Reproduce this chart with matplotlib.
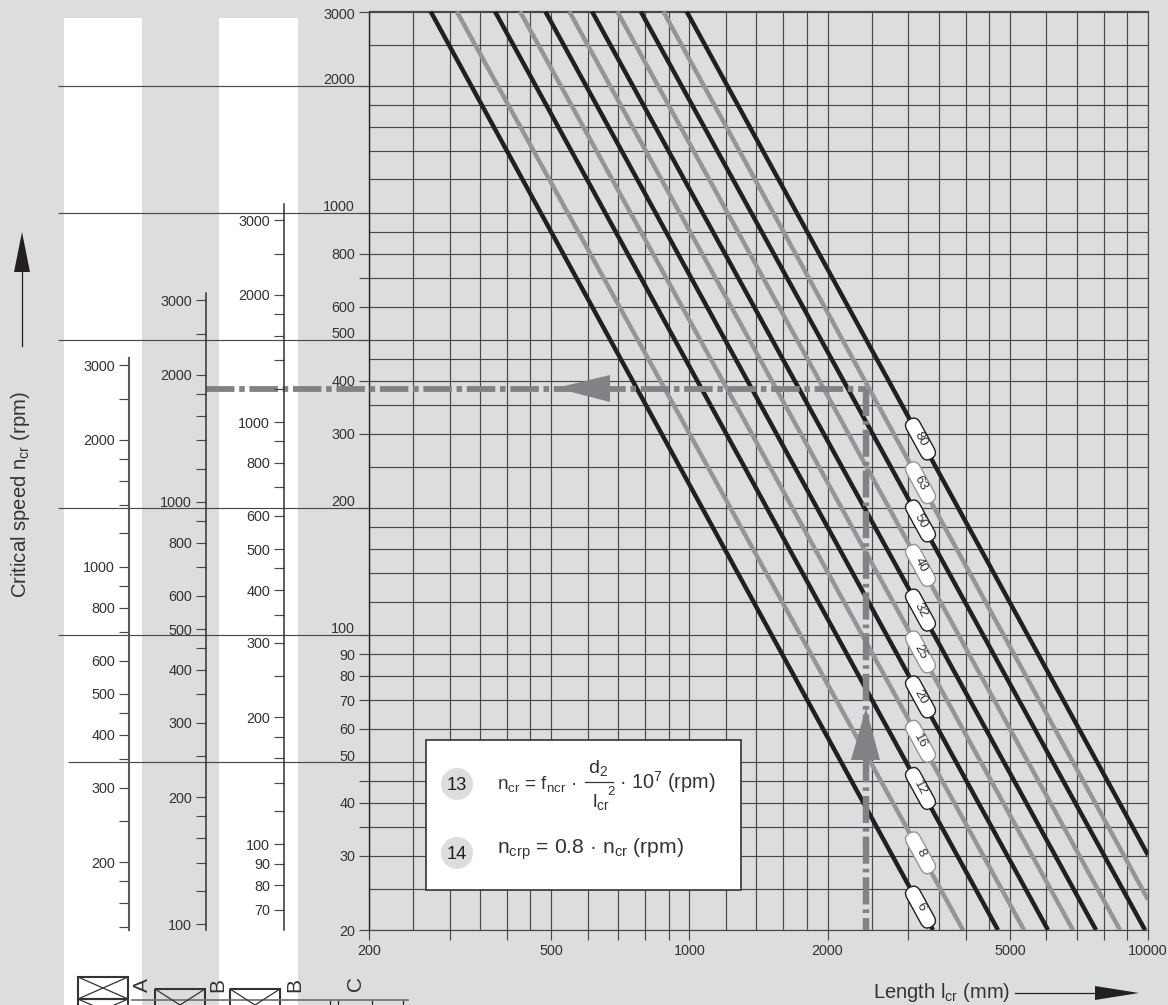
import numpy as np
import matplotlib
matplotlib.use("Agg")
import matplotlib.pyplot as plt
from matplotlib.patches import Rectangle, Polygon, Circle, FancyBboxPatch
from matplotlib.transforms import Affine2D, IdentityTransform

W, H = 1168, 1005
BG = "#dcddde"
INK = "#333335"
BLACK = "#231f20"
GREY = "#939598"
GUIDE = "#808285"
GRID = "#48484a"

plt.rcParams["font.family"] = ["Liberation Sans", "DejaVu Sans"]
plt.rcParams["mathtext.default"] = "regular"
plt.rcParams["lines.scale_dashes"] = False

# ---------- data ----------
x_major = [200, 300, 400, 500, 600, 700, 800, 900, 1000, 2000, 3000, 4000, 5000, 6000, 7000, 8000, 9000, 10000]
x_minor = [250, 350, 450, 1200, 1400, 1600, 1800, 2500, 3500, 4500]
x_labels = ["200", "", "", "500", "", "", "", "", "1000", "2000", "", "", "5000", "", "", "", "", "10000"]
y_major = [3000, 2000, 1000, 800, 700, 600, 500, 400, 300, 200, 100, 90, 80, 70, 60, 50, 45, 40, 35, 30, 20]
y_minor = [2500, 1800, 1600, 1400, 1200, 900, 450, 350, 250, 180, 160, 140, 120, 25]
y_labels = ["3000", "2000", "1000", "800", "", "600", "500", "400", "300", "200", "100", "90", "80", "70", "60", "50", "", "40", "", "30", "20"]
y_raised = ["2000", "1000", "500", "200", "100", "50"]

# diameter label, start (length, speed), end (length, speed)
diameters = ["6", "8", "12", "16", "20", "25", "32", "40", "50", "63", "80"]
line_colors = [BLACK, GREY] * 5 + [BLACK]
len_top = [272.6, 310.8, 376.6, 427, 485, 547, 613, 696, 783, 877, 986]
len_end = [3397, 3950, 4708, 5366, 6052, 6860, 7703, 8690, 9853, 10000, 10000]
spd_end = [20, 20, 20, 20, 20, 20, 20, 20, 20, 23.6, 30.1]
pill_len = 3190

guide_len = 2430
guide_spd = 383
guide_left = 88

scale_a_ticks = [3000, 2500, 2000, 1800, 1600, 1400, 1200, 1000, 900, 800, 700, 600, 500, 450, 400, 350, 300, 250, 200, 180, 160, 140]
scale_a_labels = ["3000", "", "2000", "", "", "", "", "1000", "", "800", "", "600", "500", "", "400", "", "300", "", "200", "", "", ""]
scale_b_ticks = [3000, 2500, 2000, 1800, 1600, 1400, 1200, 1000, 900, 800, 700, 600, 500, 450, 400, 350, 300, 250, 200, 180, 160, 140, 120, 100]
scale_b_labels = ["3000", "", "2000", "", "", "", "", "1000", "", "800", "", "600", "500", "", "400", "", "300", "", "200", "", "", "", "", "100"]
scale_c_ticks = [3000, 2500, 2000, 1800, 1600, 1400, 1200, 1000, 900, 800, 700, 600, 500, 450, 400, 350, 300, 250, 200, 180, 160, 140, 120, 100, 90, 80, 70]
scale_c_labels = ["3000", "", "2000", "", "", "", "", "1000", "", "800", "", "600", "500", "", "400", "", "300", "", "200", "", "", "", "", "100", "90", "80", "70"]

TICK_FS = 10.4

fig = plt.figure(figsize=(W / 100, H / 100), dpi=100, facecolor=BG)


def px_axes(x0, y0, x1, y1, **kw):
    return fig.add_axes([x0 / W, (H - y1) / H, (x1 - x0) / W, (y1 - y0) / H], **kw)


def overlay(z):
    a = px_axes(0, 0, W, H, zorder=z)
    a.set_xlim(0, W)
    a.set_ylim(H, 0)
    a.axis("off")
    a.patch.set_alpha(0)
    return a


# ---------- background ----------
bg = overlay(0)
bg.add_patch(Rectangle((64, 18), 78, H, fc="white", ec="none"))
bg.add_patch(Rectangle((219, 18), 79, H, fc="white", ec="none"))
for yy, x0 in [(86, 58), (213, 58), (340, 58), (508, 58), (635, 58), (762, 68)]:
    bg.plot([x0, 369], [yy, yy], color="#4a4a4c", lw=0.85, solid_capstyle="butt")

# ---------- main chart ----------
ax = px_axes(369, 11.5, 1148, 930, zorder=2)
ax.patch.set_alpha(0)
ax.set_xscale("log")
ax.set_yscale("log")
ax.set_xlim(200, 10000)
ax.set_ylim(20, 3000)
ax.set_xticks(x_major, x_labels)
ax.set_xticks(x_minor, [""] * len(x_minor), minor=True)
ax.set_yticks(y_major, y_labels)
ax.set_yticks(y_minor, [""] * len(y_minor), minor=True)
ax.tick_params(which="major", length=7, width=0.85, color=GRID, labelsize=TICK_FS, labelcolor=INK, pad=3)
ax.tick_params(axis="x", which="major", pad=3)
ax.tick_params(which="minor", length=0)
ax.grid(True, which="both", color=GRID, lw=0.85)
ax.set_axisbelow(True)
for s in ax.spines.values():
    s.set_color(GRID)
    s.set_linewidth(0.85)
ax.spines["left"].set_color("#222222")
ax.spines["left"].set_linewidth(1.0)
for t in ax.yaxis.get_major_ticks():
    if t.label1.get_text() in y_raised:
        t.label1.set_transform(t.label1.get_transform() + Affine2D().translate(0, 7))
    if t.label1.get_text() == "3000":
        t.label1.set_transform(t.label1.get_transform() + Affine2D().translate(0, -2))

for i, d in enumerate(diameters):
    ax.plot([len_top[i], len_end[i]], [3000, spd_end[i]], color=line_colors[i], lw=3.2,
            solid_capstyle="butt", zorder=3)

ax.plot([guide_left, guide_len], [guide_spd, guide_spd], color=GUIDE, lw=4.2, clip_on=False,
        linestyle=(0, (20.5, 3.4, 4.0, 3.4)), dash_capstyle="butt", zorder=4)
ax.plot([guide_len, guide_len], [guide_spd, 20], color=GUIDE, lw=4.6,
        linestyle=(0, (19.5, 3.6, 2.6, 3.6)), dash_capstyle="butt", zorder=4)

fig.canvas.draw()
for i, d in enumerate(diameters):
    frac = (np.log10(pill_len) - np.log10(len_top[i])) / (np.log10(len_end[i]) - np.log10(len_top[i]))
    spd = 10 ** (np.log10(3000) + frac * (np.log10(spd_end[i]) - np.log10(3000)))
    cx, cy = ax.transData.transform((pill_len, spd))
    tr = Affine2D().rotate_deg(-61.3).translate(cx, cy)
    ax.add_patch(FancyBboxPatch((-22.5, -7.5), 45, 15, boxstyle="round,pad=0,rounding_size=7.5",
                                fc="white", ec=line_colors[i], lw=1.0, transform=tr,
                                clip_on=False, zorder=6))
    ax.text(pill_len, spd, d, rotation=-61.3, rotation_mode="anchor", ha="center", va="center",
            fontsize=9.6, color=INK, zorder=7)


# ---------- left scales ----------
def left_scale(x, top, ylim, ticks, labels, color, lw):
    a = px_axes(x, top, x + 1, 930, zorder=3)
    a.patch.set_alpha(0)
    a.set_yscale("log")
    a.set_ylim(*ylim)
    a.set_yticks(ticks, labels)
    a.minorticks_off()
    a.set_xticks([])
    for k, s in a.spines.items():
        s.set_visible(k == "left")
    a.spines["left"].set_color(color)
    a.spines["left"].set_linewidth(lw)
    a.tick_params(axis="y", length=7, width=0.85, color=GRID, labelsize=TICK_FS, labelcolor=INK, pad=3)
    return a


left_scale(129, 358, (138.1, 3122), scale_a_ticks, scale_a_labels, "#58595b", 1.5)
left_scale(206, 293, (96.9, 3125), scale_b_ticks, scale_b_labels, "#333333", 1.1)
left_scale(284, 204, (62.7, 3282), scale_c_ticks, scale_c_labels, "#333333", 1.1)

# ---------- top layer: arrows, formula, titles ----------
top = overlay(5)
top.add_patch(Polygon([(556, 388), (610, 375), (610, 402)], fc=GUIDE, ec="none"))
top.add_patch(Polygon([(866, 708), (851, 760), (880, 760)], fc=GUIDE, ec="none"))

top.add_patch(Rectangle((426, 740), 315, 150, fc="white", ec=INK, lw=1.2))
top.add_patch(Circle((457, 784), 16, fc=BG, ec="none"))
top.add_patch(Circle((457, 853), 16, fc=BG, ec="none"))
top.text(457, 785, "13", ha="center", va="center", fontsize=13.2, color=BLACK)
top.text(457, 854, "14", ha="center", va="center", fontsize=13.2, color=BLACK)
top.text(497, 789, r"n$_{cr}$ = f$_{ncr}$ ·", ha="left", va="baseline", fontsize=13.7, color=INK)
top.text(598, 773, r"d$_{2}$", ha="center", va="baseline", fontsize=14, color=INK)
top.plot([585, 613], [782, 782], color=INK, lw=0.9)
top.text(592, 807, r"l$_{cr}$", ha="left", va="baseline", fontsize=14, color=INK)
top.text(611, 795, "2", ha="center", va="baseline", fontsize=9.5, color=INK)
top.text(619, 789, r"· 10$^{7}$ (rpm)", ha="left", va="baseline", fontsize=14.3, color=INK)
top.text(497, 854, r"n$_{crp}$ = 0.8 · n$_{cr}$ (rpm)", ha="left", va="baseline", fontsize=15.2, color=INK)

top.text(873, 998, r"Length l$_{cr}$ (mm)", ha="left", va="baseline", fontsize=14.5, color=INK)
top.plot([1015, 1097], [993, 993], color=BLACK, lw=0.9)
top.add_patch(Polygon([(1139, 993), (1095, 986), (1095, 1000)], fc=BLACK, ec="none"))

top.text(21, 495, r"Critical speed n$_{cr}$ (rpm)", rotation=90, ha="center", va="center",
         fontsize=14.6, color=INK)
top.plot([22, 22], [270, 346], color=BLACK, lw=0.9)
top.add_patch(Polygon([(22, 232), (14, 272), (30, 272)], fc=BLACK, ec="none"))


# ---------- bottom scale symbols ----------
def crossed(x0, y0, x1, y1):
    top.add_patch(Rectangle((x0, y0), x1 - x0, y1 - y0, fc="none", ec=INK, lw=1.5))
    top.plot([x0, x1], [y0, y1], color=INK, lw=0.9)
    top.plot([x0, x1], [y1, y0], color=INK, lw=0.9)


top.plot([132, 408], [1000, 1000], color="#6d6e70", lw=1.2)
crossed(78, 977, 128, 999)
crossed(78, 999, 128, 1021)
crossed(155, 989, 205, 1021)
crossed(230, 989, 280, 1021)
for xx in [330, 338, 372, 403]:
    top.plot([xx, xx], [1001, 1010], color=INK, lw=1.0)
for xx, yy, s in [(142, 985, "A"), (218, 985, "B"), (295, 985, "B"), (355, 983, "C")]:
    top.text(xx, yy, s, rotation=90, ha="center", va="center", fontsize=15, color=INK)

fig.savefig("out.png", dpi=100, facecolor=BG)
